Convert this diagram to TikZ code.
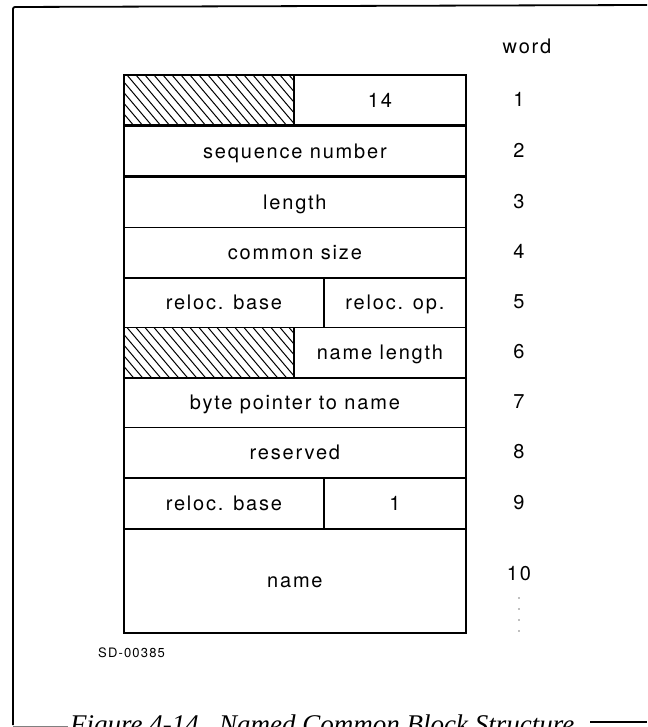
\documentclass[tikz,border=0pt]{standalone}
\usepackage{fontspec}
\setmainfont{TeX Gyre Heros}[LetterSpace=9]
\newfontfamily\capfont{Liberation Serif}[ItalicFont=* Italic]
\tikzset{
  cell/.style={draw, line width=1.8pt, rectangle, anchor=north west, inner sep=0pt,
    minimum height=#1, text height=14pt, text depth=0pt,
    font=\fontsize{20}{22}\selectfont},
  cell/.default=50.5pt,
  hatchcell/.style={cell,
    path picture={\foreach \k in {-60,-51,...,240}
      \draw[line width=1pt] ([xshift=\k pt]path picture bounding box.north west) -- ++(44pt,-52pt);}},
  wordnum/.style={inner sep=0pt, text height=14pt, text depth=0pt, font=\fontsize{20}{22}\selectfont},
  vdot/.style={fill=gray, inner sep=0pt, minimum size=1.6pt, circle}
}
\begin{document}
\begin{tikzpicture}[x=1pt,y=-1pt]
\useasboundingbox (0,0) rectangle (647,727);
% frame
\draw[line width=1.8pt, rounded corners=2pt] (13,725) -- (13,7) -- (647,5);
\draw[gray, line width=1pt] (13,726) -- (68,726);
\draw[line width=1.4pt] (590,722) -- (647,722);
% rows
\node[hatchcell, minimum width=170pt] (h1) at (123,74) {};
\node[cell, minimum width=172pt] (w1) at (293,74) {14};
\node[cell, minimum width=342pt] (w2) at (123,125) {sequence number};
\node[cell, minimum width=342pt] (w3) at (123,176) {length};
\node[cell, minimum width=342pt] (w4) at (123,226.5) {common size};
\node[cell, minimum width=200pt, minimum height=49.5pt] (w5a) at (123,277) {reloc. base};
\node[cell, minimum width=142pt, minimum height=49.5pt] (w5b) at (323,277) {reloc. op.};
\node[hatchcell, minimum width=170pt] (h6) at (123,326.5) {};
\node[cell, minimum width=172pt] (w6) at (293,326.5) {name length};
\node[cell, minimum width=342pt, minimum height=49.5pt] (w7) at (123,377) {byte pointer to name};
\node[cell, minimum width=342pt] (w8) at (123,426.5) {reserved};
\node[cell, minimum width=200pt, minimum height=51pt] (w9a) at (123,477) {reloc. base};
\node[cell, minimum width=142pt, minimum height=51pt] (w9b) at (323,477) {1};
\node[cell, minimum width=342pt, minimum height=104pt] (w10) at (123,528) {name};
% word column
\node[wordnum] (lw) at (527,47) {word};
\node[wordnum] (n1) at (519,99.5) {1};
\node[wordnum] (n2) at (519,150.5) {2};
\node[wordnum] (n3) at (519,201) {3};
\node[wordnum] (n4) at (519,251.5) {4};
\node[wordnum] (n5) at (519,301.5) {5};
\node[wordnum] (n6) at (519,351.5) {6};
\node[wordnum] (n7) at (519,401.5) {7};
\node[wordnum] (n8) at (519,451.5) {8};
\node[wordnum] (n9) at (519,502.5) {9};
\node[wordnum] (n10) at (519,573) {10};
\node[vdot] (d1) at (519,598) {};
\node[vdot] (d2) at (519,609) {};
\node[vdot] (d3) at (519,620) {};
\node[vdot] (d4) at (519,631) {};
% labels
\node[anchor=west, inner sep=0pt, font=\fontsize{13}{15}\selectfont] (sd) at (98,653) {SD-00385};
\node[anchor=base west, inner sep=0pt, font=\capfont\itshape\fontsize{27}{30}\selectfont] (cap) at (70,733) {Figure 4-14.\ \ Named Common Block Structure};
\end{tikzpicture}
\end{document}
